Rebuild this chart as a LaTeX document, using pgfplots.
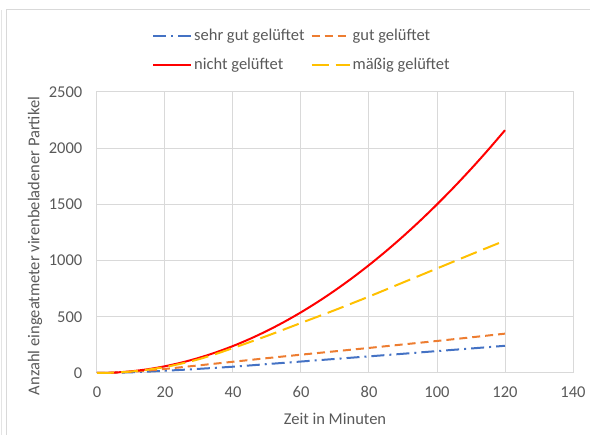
\documentclass[border=0pt]{standalone}
\usepackage{pgfplots}
\pgfplotsset{compat=1.18}
\usepackage{fontspec}
\setmainfont{Carlito}
\definecolor{cblue}{HTML}{4472C4}
\definecolor{corange}{HTML}{ED7D31}
\definecolor{cred}{HTML}{FF0000}
\definecolor{cyellow}{HTML}{FFC000}
\definecolor{ctext}{HTML}{595959}
\definecolor{cgrid}{HTML}{D9D9D9}
\begin{document}
\fontsize{16.5}{19}\selectfont
\begin{tikzpicture}[x=1pt,y=1pt]
\path[use as bounding box] (0,0) rectangle (590,435);
\draw[cgrid,line width=1pt] (6,-10) -- (6,425) -- (600,425);
\draw[cgrid!70,line width=0.8pt] (1.5,-10) -- (1.5,425);
\begin{axis}[
  at={(97pt,62pt)}, anchor=south west,
  scale only axis, width=476pt, height=281pt,
  xmin=0, xmax=140, ymin=0, ymax=2500,
  xtick={0,20,...,140}, ytick={0,500,...,2500},
  major tick length=0pt,
  grid=major,
  grid style={cgrid,line width=1pt},
  axis line style={cgrid,line width=1pt},
  /pgf/number format/assume math mode=true,
  /pgf/number format/1000 sep={},
  ticklabel style={font=\fontsize{16.5}{19}\selectfont, text=ctext},
  xticklabel style={yshift=-8pt},
  yticklabel style={xshift=-9pt},
  xlabel={Zeit in Minuten},
  ylabel={Anzahl eingeatmeter virenbeladener Partikel},
  label style={font=\fontsize{16.5}{19}\selectfont, text=ctext},
  xlabel style={at={(axis description cs:0.5,-0.1637)}, anchor=center},
  ylabel style={at={(axis description cs:-0.130,0.452)}, anchor=center},
  legend columns=2,
  legend cell align=left,
  legend image code/.code={\draw[#1] (0pt,0pt) -- (38pt,0pt);},
  legend style={at={(axis description cs:0.1155,1.23)}, anchor=north west,
    draw=none, fill=none, inner sep=0pt, row sep=14pt,
    font=\fontsize{16.5}{19}\selectfont, text=ctext,
    nodes={inner xsep=2pt, inner ysep=1pt},
    /tikz/every even column/.append style={column sep=4pt}},
  every axis plot/.append style={line width=2pt, line cap=butt},
  clip=false,
]
\addplot[cblue, dash pattern=on 13pt off 5pt on 2pt off 5pt, smooth] coordinates {
(0,0) (5,2) (10,6) (15,12) (20,20) (25,28) (30,37) (40,56) (50,79) (60,102)
(70,125) (80,148) (90,171) (100,195) (110,218) (120,242)};
\addlegendentry{sehr gut gelüftet}
\addplot[corange, dash pattern=on 8pt off 5pt, smooth] coordinates {
(0,0) (5,3) (10,11) (15,22) (20,36) (25,52) (30,68) (40,100) (50,132) (60,163)
(70,193) (80,223) (90,254) (100,285) (110,317) (120,350)};
\addlegendentry{gut gelüftet}
\addplot[cred, smooth] coordinates {
(0,0) (5,3.75) (10,15) (15,33.75) (20,60) (25,93.75) (30,135) (35,183.75)
(40,240) (45,303.75) (50,375) (55,453.75) (60,540) (65,633.75) (70,735)
(75,843.75) (80,960) (85,1083.75) (90,1215) (95,1353.75) (100,1500)
(105,1653.75) (110,1815) (115,1983.75) (120,2160)};
\addlegendentry{nicht gelüftet}
\addplot[cyellow, dash pattern=on 17pt off 7pt, smooth] coordinates {
(0,0) (5,3) (10,13) (15,30) (20,53) (25,85) (30,123) (35,170) (40,222)
(50,330) (60,445) (70,560) (80,680) (90,805) (100,930) (110,1055) (120,1178)};
\addlegendentry{mäßig gelüftet}
\end{axis}
\end{tikzpicture}
\end{document}
